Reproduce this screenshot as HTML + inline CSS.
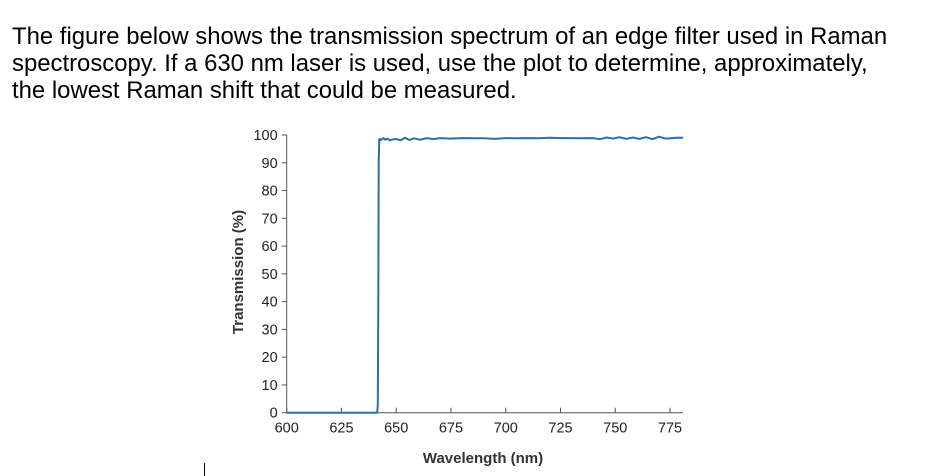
<!DOCTYPE html>
<html><head><meta charset="utf-8"><style>
body{margin:0;background:#fff;width:940px;height:476px;overflow:hidden;position:relative;font-family:"Liberation Sans",Arial,sans-serif}
#q{position:absolute;left:12px;top:23px;font-size:23.9px;line-height:27px;color:#000;width:928px;margin:0;white-space:nowrap}
svg{position:absolute;left:0;top:0}
</style></head><body>
<p id="q">The figure below shows the transmission spectrum of an edge filter used in Raman<br>spectroscopy. If a 630 nm laser is used, use the plot to determine, approximately,<br>the lowest Raman shift that could be measured.</p>
<svg id="chart" width="940" height="476"></svg>
<script>
const xTicks=[600,625,650,675,700,725,750,775];
const yTicks=[0,10,20,30,40,50,60,70,80,90,100];
const wavelengths=[600,641.3,641.6,641.8,642,642.3,643,644,645,646,647,648,650,652,654,656,658,661,664,667,670,675,680,685,690,695,700,705,710,715,720,725,730,735,740,743,746,749,752,755,758,761,764,767,770,773,776,778,781];
const transmission=[0,0,3,40,90,98.6,98.2,98.9,98.3,98.7,98.1,98.3,98.6,98.1,99,98.2,98.8,98.3,98.9,98.5,98.9,98.7,98.9,98.8,98.8,98.6,98.9,98.8,98.9,98.8,99,98.9,98.9,98.8,98.9,98.5,99.1,98.7,99.2,98.6,99.1,98.6,99.2,98.5,99.4,98.7,98.9,99,99];
const svg=document.getElementById('chart');const NS='http://www.w3.org/2000/svg';
const X0=286.7,PX=(670-286.7)/175,Y0=412.7,PY=(412.7-135)/100;
const sx=v=>X0+(v-600)*PX, sy=v=>Y0-v*PY;
function mk(t,a,txt){const e=document.createElementNS(NS,t);for(const k in a)e.setAttribute(k,a[k]);if(txt!==undefined)e.textContent=txt;svg.appendChild(e);return e;}
const F='"Liberation Sans",Arial,sans-serif';
let e=mk('line',{x1:X0,y1:135,x2:X0,y2:Y0,stroke:'#555','stroke-width':1});

e=mk('line',{x1:X0,y1:Y0,x2:683,y2:Y0,stroke:'#555','stroke-width':1});

yTicks.forEach(v=>{mk('line',{x1:X0-5,y1:sy(v),x2:X0,y2:sy(v),stroke:'#555'});
e=mk('text',{x:X0-9,y:sy(v)+5,'text-anchor':'end','font-size':14.5,fill:'#222','font-family':F},v);
});
xTicks.forEach(v=>{mk('line',{x1:sx(v),y1:Y0,x2:sx(v),y2:Y0-5,stroke:'#555'});
e=mk('text',{x:sx(v),y:Y0+20,'text-anchor':'middle','font-size':14.5,fill:'#222','font-family':F},v);
});
e=mk('text',{x:483,y:463,'text-anchor':'middle','font-size':15,'font-weight':'bold',fill:'#333','font-family':F},'Wavelength (nm)');

e=mk('text',{x:0,y:0,transform:'translate(243,272) rotate(-90)','text-anchor':'middle','font-size':15,'font-weight':'bold',fill:'#333','font-family':F},'Transmission (%)');

let d=wavelengths.map((w,i)=>(i?'L':'M')+sx(w).toFixed(1)+','+sy(transmission[i]).toFixed(1)).join('');
e=mk('path',{d:d,fill:'none',stroke:'#2a6fa6','stroke-width':2,'stroke-linejoin':'round'});

e=mk('line',{x1:204.5,y1:463,x2:204.5,y2:476,stroke:'#000'});

</script>
</body></html>
